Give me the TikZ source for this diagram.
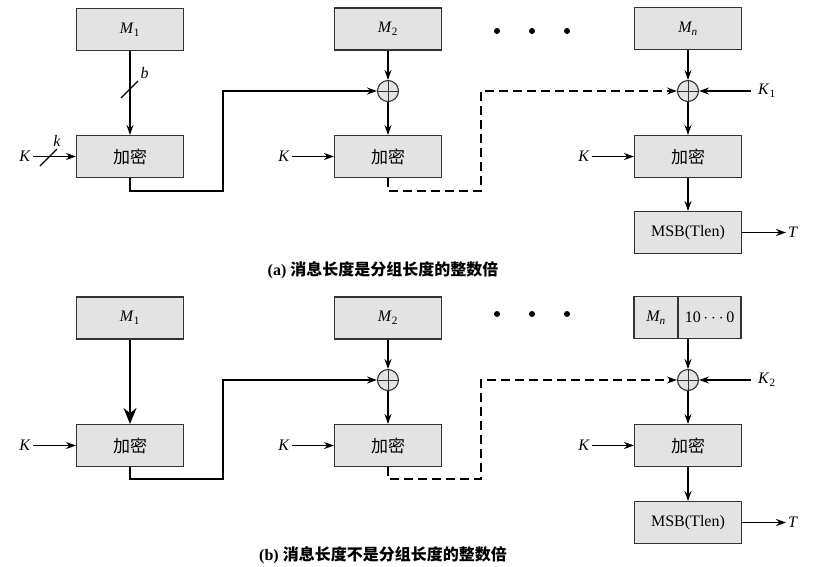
\documentclass[tikz,border=0pt]{standalone}
\usepackage{fontspec}
\setmainfont{Liberation Serif}
\newfontfamily\cjk{Noto Sans CJK SC}
\usetikzlibrary{arrows.meta}

\begin{document}
\begin{tikzpicture}[x=1pt, y=-1pt, >={Stealth[length=10pt,width=7pt]},
    font=\fontsize{16}{19}\selectfont,
    bloc/.style={draw=black!80, line width=1.1pt, fill=gray!22, minimum width=107pt, minimum height=42pt, inner sep=0pt},
    ouex/.style={draw=black!80, line width=1.1pt, fill=gray!22, circle, minimum size=21pt, inner sep=0pt,
        path picture={\draw[line width=0.8pt] (path picture bounding box.north) -- (path picture bounding box.south)
                                              (path picture bounding box.west) -- (path picture bounding box.east);}},
    fleche/.style={->, line width=1.6pt},
    tiret/.style={fleche, dash pattern=on 9pt off 5pt},
    cle/.style={inner sep=2pt},
    chiffre/.style={font=\fontsize{17}{20}\selectfont\cjk},
    legende/.style={font=\fontsize{16}{19}\selectfont\cjk\bfseries}]
    \useasboundingbox (0,0) rectangle (815,566);

    % (a) longueur multiple de la taille de bloc
    \node[bloc] (m1a) at (130,29.5) {\textit{M}\textsubscript{1}};
    \node[bloc, chiffre] (e1a) at (130,156.5) {加密};
    \node[bloc] (m2a) at (388,29) {\textit{M}\textsubscript{2}};
    \node[ouex] (x2a) at (388,91) {};
    \node[bloc, chiffre] (e2a) at (388,156.5) {加密};
    \node[bloc] (mna) at (688,28.5) {\textit{M\textsubscript{n}}};
    \node[ouex] (xna) at (688,91) {};
    \node[bloc, chiffre] (ena) at (688,156.5) {加密};
    \node[bloc] (msba) at (688,232.5) {MSB(Tlen)};

    \node[cle, anchor=east] (k1a) at (33,156.5) {\textit{K}};
    \node[cle, anchor=east] (k2a) at (292,156.5) {\textit{K}};
    \node[cle, anchor=east] (kna) at (592,156.5) {\textit{K}};
    \node[cle, anchor=west] (kk1) at (756,91) {\textit{K}\textsubscript{1}};
    \node[cle, anchor=west] (ta) at (786,232.5) {\textit{T}};

    \coordinate (c1a) at (223,191);
    \coordinate (c2a) at (481,191);

    \draw[fleche] (m1a) -- (e1a);
    \draw[fleche] (k1a) -- (e1a);
    \draw[line width=1.1pt] (121,98) -- (138,81) node[cle, above right, pos=1] (ba) {\textit{b}};
    \draw[line width=1.1pt] (40,166) -- (57,149) node[cle, above, pos=1] (ka) {\textit{k}};
    \draw[fleche] (e1a.south) |- (c1a) |- (x2a.west);
    \draw[fleche] (m2a) -- (x2a);
    \draw[fleche] (x2a) -- (e2a);
    \draw[fleche] (k2a) -- (e2a);
    \draw[tiret] (e2a.south) |- (c2a) |- (xna.west);
    \draw[fleche] (mna) -- (xna);
    \draw[fleche] (kk1.west) ++(-5,0) -- (xna);
    \draw[fleche] (xna) -- (ena);
    \draw[fleche] (kna) -- (ena);
    \draw[fleche] (ena) -- (msba);
    \draw[fleche] (msba) -- (ta);

    \fill (497,31) circle (3) (532,31) circle (3) (567,31) circle (3);
    \node[legende] (cap_a) at (383,270) {\rmfamily (a) \cjk 消息长度是分组长度的整数倍};

    % (b) longueur non multiple de la taille de bloc
    \node[bloc] (m1b) at (130,318) {\textit{M}\textsubscript{1}};
    \node[bloc, chiffre] (e1b) at (130,445.5) {加密};
    \node[bloc] (m2b) at (388,318) {\textit{M}\textsubscript{2}};
    \node[ouex] (x2b) at (388,380) {};
    \node[bloc, chiffre] (e2b) at (388,445.5) {加密};
    \node[bloc, minimum width=44pt] (mnb) at (656,317.5) {\textit{M\textsubscript{n}}};
    \node[bloc, minimum width=63pt] (padb) at (709.5,317.5) {10\,$\cdots$\,0};
    \node[ouex] (xnb) at (688,380) {};
    \node[bloc, chiffre] (enb) at (688,445.5) {加密};
    \node[bloc] (msbb) at (688,522.5) {MSB(Tlen)};

    \node[cle, anchor=east] (k1b) at (33,445.5) {\textit{K}};
    \node[cle, anchor=east] (k2b) at (292,445.5) {\textit{K}};
    \node[cle, anchor=east] (knb) at (592,445.5) {\textit{K}};
    \node[cle, anchor=west] (kk2) at (756,380) {\textit{K}\textsubscript{2}};
    \node[cle, anchor=west] (tb) at (786,522.5) {\textit{T}};

    \coordinate (c1b) at (223,479);
    \coordinate (c2b) at (481,479);

    \draw[line width=1.8pt, -{Stealth[length=16pt,width=13pt]}] (m1b) -- (e1b);
    \draw[fleche] (k1b) -- (e1b);
    \draw[fleche] (e1b.south) |- (c1b) |- (x2b.west);
    \draw[fleche] (m2b) -- (x2b);
    \draw[fleche] (x2b) -- (e2b);
    \draw[fleche] (k2b) -- (e2b);
    \draw[tiret] (e2b.south) |- (c2b) |- (xnb.west);
    \draw[fleche] (xnb.north |- padb.south) -- (xnb);
    \draw[fleche] (kk2.west) ++(-5,0) -- (xnb);
    \draw[fleche] (xnb) -- (enb);
    \draw[fleche] (knb) -- (enb);
    \draw[fleche] (enb) -- (msbb);
    \draw[fleche] (msbb) -- (tb);

    \fill (497,314) circle (3) (532,314) circle (3) (567,314) circle (3);
    \node[legende] (cap_b) at (383,555) {\rmfamily (b) \cjk 消息长度不是分组长度的整数倍};

\end{tikzpicture}
\end{document}
